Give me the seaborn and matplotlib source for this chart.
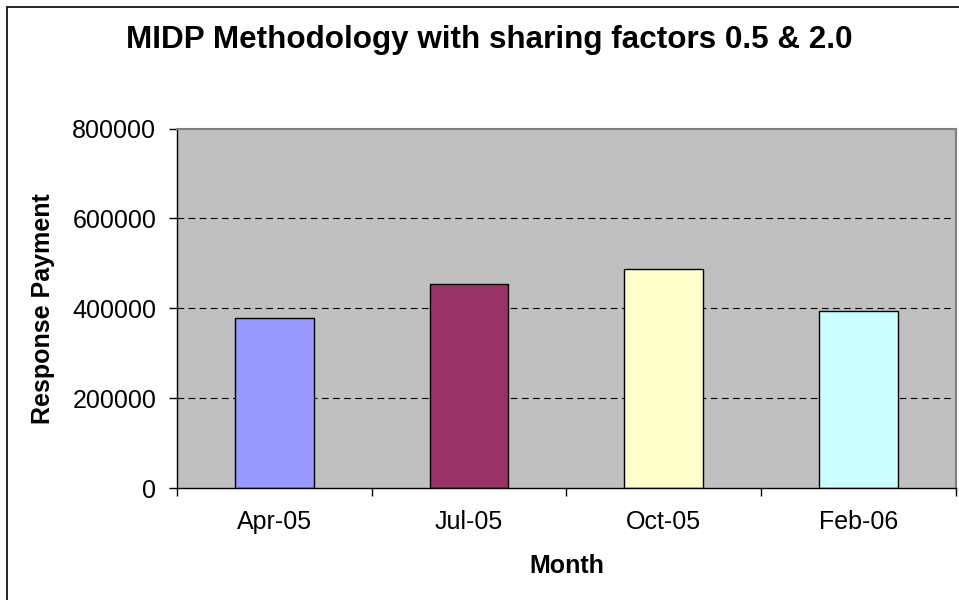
import numpy as np
import pandas as pd
import matplotlib
matplotlib.use("Agg")
import matplotlib.pyplot as plt
import matplotlib.patches as patches
import seaborn as sns

# ── data ─────────────────────────────────────────────
months = ["Apr-05", "Jul-05", "Oct-05", "Feb-06"]
payments = [379000, 453000, 488000, 393000]
bar_colors = ["#9999FF", "#993366", "#FFFFCC", "#CCFFFF"]
y_ticks = [0, 200000, 400000, 600000, 800000]

sns.set_style("white")
plt.rcParams["font.family"] = ["Liberation Sans", "DejaVu Sans"]
plt.rcParams.update({
    "text.color": "black",
    "axes.labelcolor": "black",
    "xtick.color": "black",
    "ytick.color": "black",
})

df = pd.DataFrame({"Month": months, "Payment": payments})

fig = plt.figure(figsize=(9.59, 6.0), dpi=100)
ax = fig.add_axes([177 / 959, 1 - 488 / 600, (955.7 - 177) / 959, (488 - 128.5) / 600])
ax.set_facecolor("#C0C0C0")

sns.barplot(data=df, x="Month", y="Payment", hue="Month", palette=bar_colors,
            saturation=1, width=0.404, edgecolor="black", linewidth=1.0,
            legend=False, ax=ax)

ax.set_ylim(0, 800000)
ax.set_xlim(-0.5, len(months) - 0.5)
ax.set_yticks(y_ticks)
ax.set_yticklabels([str(v) for v in y_ticks])

# dashed gridlines behind bars
for v in y_ticks[1:-1]:
    ax.axhline(v, color="black", lw=0.8, ls=(0, (6, 4)), zorder=0.5)

# category boundary ticks on x
ax.set_xticks(np.arange(len(months)))
ax.set_xticklabels(months)
ax.set_xticks(np.arange(len(months) + 1) - 0.5, minor=True)
ax.tick_params(axis="x", which="major", length=0, pad=16, labelsize=18)
ax.tick_params(axis="x", which="minor", length=6, width=1, direction="out", bottom=True)
ax.tick_params(axis="y", length=6, width=1, direction="out", left=True, pad=9, labelsize=18)

for side in ["left", "bottom"]:
    ax.spines[side].set_color("black")
    ax.spines[side].set_linewidth(1.0)
for side in ["top", "right"]:
    ax.spines[side].set_color("#808080")
    ax.spines[side].set_linewidth(1.5)

ax.set_xlabel("Month", fontsize=18, fontweight="bold", labelpad=14)
ax.set_ylabel("Response Payment", fontsize=18, fontweight="bold", labelpad=12)

fig.text(489.5 / 959, 1 - 48 / 600, "MIDP Methodology with sharing factors 0.5 & 2.0",
         ha="center", va="baseline", fontsize=22.6, fontweight="bold")

# chart area border (right/bottom edges cropped)
fig.patches.append(patches.Rectangle((7 / 959, -0.1), 1.2, 1.1 - 7 / 600,
                                     transform=fig.transFigure, fill=False,
                                     edgecolor="black", lw=1.2))

fig.savefig("out.png", dpi=100)
plt.close("all")
